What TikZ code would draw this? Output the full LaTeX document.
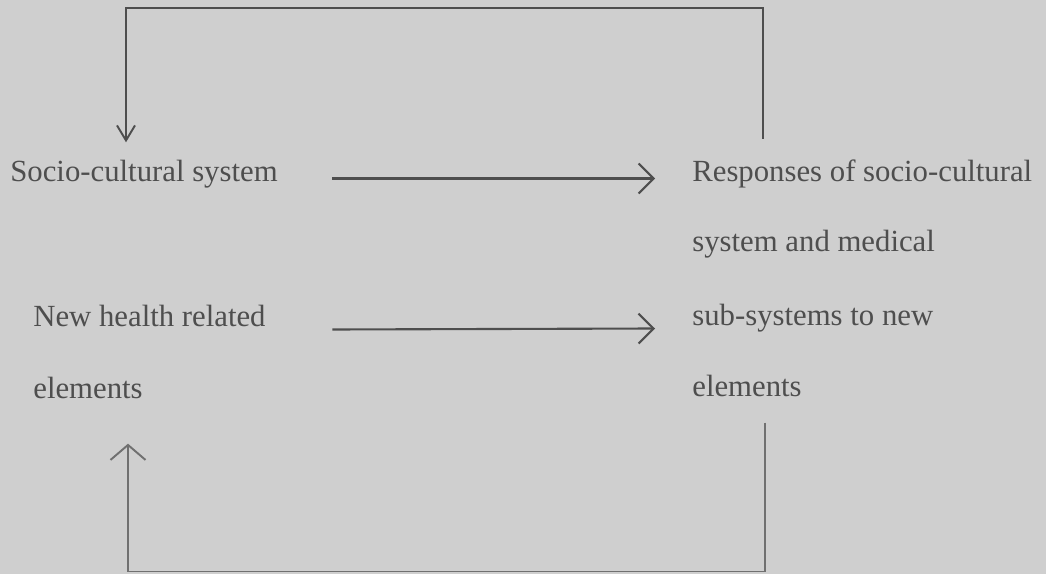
\documentclass[tikz,border=0pt]{standalone}
\usepackage{fontspec}
\setmainfont{Liberation Serif}
\usepackage{tikz}
\usetikzlibrary{arrows.meta}
\definecolor{paper}{RGB}{207,207,207}
\definecolor{ink}{RGB}{78,78,78}
\definecolor{faint}{RGB}{112,112,112}
\tikzstyle{txt} = [anchor=base west, inner sep=0pt, text=ink, font=\fontsize{17.5}{21}\selectfont]
\tikzstyle{line} = [draw=ink, line width=1.2pt, -{Straight Barb[length=3mm,width=6mm]}]
\tikzstyle{back} = [draw=ink, line width=1.1pt]

\begin{document}
\begin{tikzpicture}
    \fill[paper] (0,0) rectangle (20.92,11.48);
    \useasboundingbox (0,0) rectangle (20.92,11.48);

        \node[txt] (SC) at (0.2, 7.85) {Socio-cultural system};
        \node[txt] (NH1) at (0.66, 4.96) {New health related};
        \node[txt] (NH2) at (0.66, 3.52) {elements};

        \node[txt] (RS1) at (13.84, 7.85) {Responses of socio-cultural};
        \node[txt] (RS2) at (13.84, 6.44) {system and medical};
        \node[txt] (RS3) at (13.84, 4.98) {sub-systems to new};
        \node[txt] (RS4) at (13.84, 3.56) {elements};

    \coordinate (TL) at (2.52, 11.32);
    \coordinate (TR) at (15.26, 11.32);
    \coordinate (BL) at (2.56, 0.05);
    \coordinate (BR) at (15.30, 0.05);

    \draw[line] ([xshift=1.085cm,yshift=0.06cm]SC.base east) -- ([xshift=-0.74cm,yshift=0.06cm]RS1.base west);
    \draw[line] ([xshift=1.33cm,yshift=-0.07cm]NH1.base east) -- ([xshift=-0.74cm,yshift=-0.07cm]RS3.base west);

    % feedback loops
    \draw[back, -{Straight Barb[length=3mm,width=3.6mm]}, shorten <=0.41cm, shorten >=0.35cm]
        (TR |- RS1.north) -- (TR) -- (TL) -- (TL |- SC.north);
    \draw[back, draw=faint, -{Straight Barb[length=3mm,width=7mm]}, shorten <=0.52cm, shorten >=0.9cm]
        (BR |- RS4.south) -- (BR) -- (BL) -- (BL |- NH2.south);

\end{tikzpicture}
\end{document}
